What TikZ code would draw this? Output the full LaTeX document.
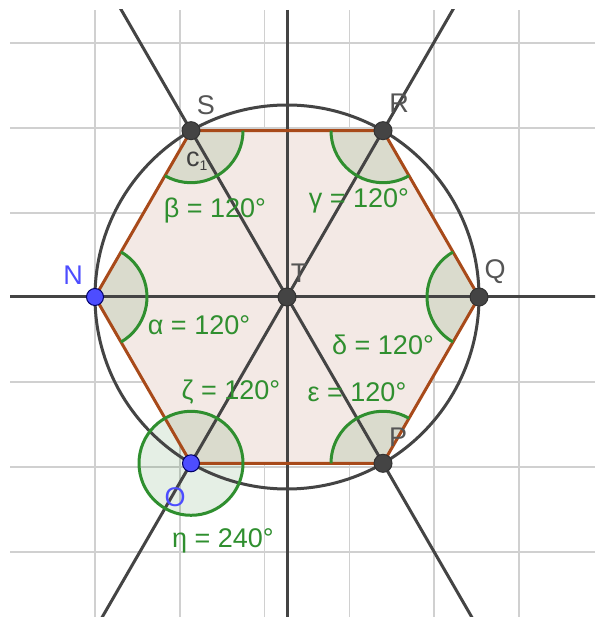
\documentclass[tikz,border=0pt]{standalone}
\usepackage{fontspec}
\setmainfont{Liberation Sans}
\usetikzlibrary{calc}
\definecolor{gridc}{HTML}{D0D0D0}
\definecolor{linec}{HTML}{444444}
\definecolor{hexedge}{HTML}{A84A1A}
\definecolor{hexfill}{HTML}{F3E9E5}
\definecolor{angc}{HTML}{2F8F2F}
\definecolor{angfill}{HTML}{006400}
\definecolor{ptblue}{HTML}{4D4DFF}
\definecolor{labgray}{HTML}{555555}
\begin{document}
\begin{tikzpicture}[x=1pt,y=1pt,
  gridline/.style={draw=gridc,line width=1.5pt},
  mainline/.style={draw=linec,line width=3pt},
  hexline/.style={draw=hexedge,line width=3pt,line join=round},
  secfill/.style={fill=angfill,fill opacity=0.1},
  secarc/.style={draw=angc,line width=3pt},
  angle label/.style={text=angc,font=\fontsize{27}{30}\selectfont,inner sep=0pt,anchor=base},
  point label/.style={font=\fontsize{27}{30}\selectfont,inner sep=0pt,anchor=base},
  darkpt/.style={circle,fill=linec,draw=black!80,line width=1pt,minimum size=18pt,inner sep=0pt},
  bluept/.style={circle,fill=ptblue,draw=blue!40!black,line width=1pt,minimum size=17pt,inner sep=0pt}]
\useasboundingbox (0,0) rectangle (595,617);
\fill[white] (0,0) rectangle (595,617);
% points
\coordinate (T) at (287,320);
\coordinate (Q) at (479,320);
\coordinate (R) at (383,486.3);
\coordinate (S) at (191,486.3);
\coordinate (N) at (95,320);
\coordinate (O) at (191,153.7);
\coordinate (P) at (383,153.7);
\coordinate (Vtop) at (287,607);
\coordinate (Vbot) at (287,0);
% grid
\begin{scope}
\clip (10,0) rectangle (595,607);
\foreach \x in {95,179.75,264.5,349.25,434,518.75} \draw[gridline] (\x,0) -- (\x,607);
\foreach \y in {574,489,404,320,235,150,65} \draw[gridline] (10,\y) -- (595,\y);
\end{scope}
% hexagon fill
\fill[hexfill] (Q) -- (R) -- (S) -- (N) -- (O) -- (P) -- cycle;
% sector fills
\fill[secfill] (Q) -- ++(120:52) arc[start angle=120,end angle=240,radius=52] -- cycle;
\fill[secfill] (R) -- ++(180:52) arc[start angle=180,end angle=300,radius=52] -- cycle;
\fill[secfill] (S) -- ++(240:52) arc[start angle=240,end angle=360,radius=52] -- cycle;
\fill[secfill] (N) -- ++(-60:52) arc[start angle=-60,end angle=60,radius=52] -- cycle;
\fill[secfill] (O) -- ++(0:52) arc[start angle=0,end angle=120,radius=52] -- cycle;
\fill[secfill] (O) -- ++(120:52) arc[start angle=120,end angle=360,radius=52] -- cycle;
\fill[secfill] (P) -- ++(60:52) arc[start angle=60,end angle=180,radius=52] -- cycle;
% lines through T
\begin{scope}
\clip (10,0) rectangle (595,607);
\draw[mainline,shorten <=-600pt,shorten >=-600pt] (S) -- (P);
\draw[mainline,shorten <=-600pt,shorten >=-600pt] (R) -- (O);
\draw[mainline,shorten <=-100pt,shorten >=-200pt] (N) -- (Q);
\draw[mainline] (Vtop) -- (Vbot);
\end{scope}
% circle
\draw[mainline] (T) circle[radius=192];
% hexagon edges
\draw[hexline] (Q) -- (R) -- (S) -- (N) -- (O) -- (P) -- cycle;
% sector arcs
\draw[secarc] ($(Q)+(120:52)$) arc[start angle=120,end angle=240,radius=52];
\draw[secarc] ($(R)+(180:52)$) arc[start angle=180,end angle=300,radius=52];
\draw[secarc] ($(S)+(240:52)$) arc[start angle=240,end angle=360,radius=52];
\draw[secarc] ($(N)+(-60:52)$) arc[start angle=-60,end angle=60,radius=52];
\draw[secarc] (O) circle[radius=52];
\draw[secarc] ($(P)+(60:52)$) arc[start angle=60,end angle=180,radius=52];
% point markers
\node[darkpt] (Tm) at (T) {};
\node[darkpt] (Qm) at (Q) {};
\node[darkpt] (Rm) at (R) {};
\node[darkpt] (Sm) at (S) {};
\node[darkpt] (Pm) at (P) {};
\node[bluept] (Nm) at (N) {};
\node[bluept] (Om) at (O) {};
% point labels
\node[point label,text=labgray] (lS) at (206,502) {S};
\node[point label,text=labgray] (lR) at (399,504) {R};
\node[point label,text=labgray] (lQ) at (495,338) {Q};
\node[point label,text=ptblue] (lN) at (73,332) {N};
\node[point label,text=labgray] (lT) at (299,334) {T};
\node[point label,text=labgray] (lP) at (398,170) {P};
\node[point label,text=ptblue] (lO) at (175,110) {O};
\node[point label,text=black!75,anchor=base west] (lc) at (186,450) {c\raisebox{-4pt}{\fontsize{14}{16}\selectfont 1}};
% angle labels
\node[angle label] (la) at (199,282) {α = 120°};
\node[angle label] (lb) at (215,399) {β = 120°};
\node[angle label] (lg) at (359,409) {γ = 120°};
\node[angle label] (ld) at (383,262) {δ = 120°};
\node[angle label] (le) at (357,215) {ε = 120°};
\node[angle label] (lz) at (231,217) {ζ = 120°};
\node[angle label] (lh) at (223,69) {η = 240°};
\end{tikzpicture}
\end{document}
